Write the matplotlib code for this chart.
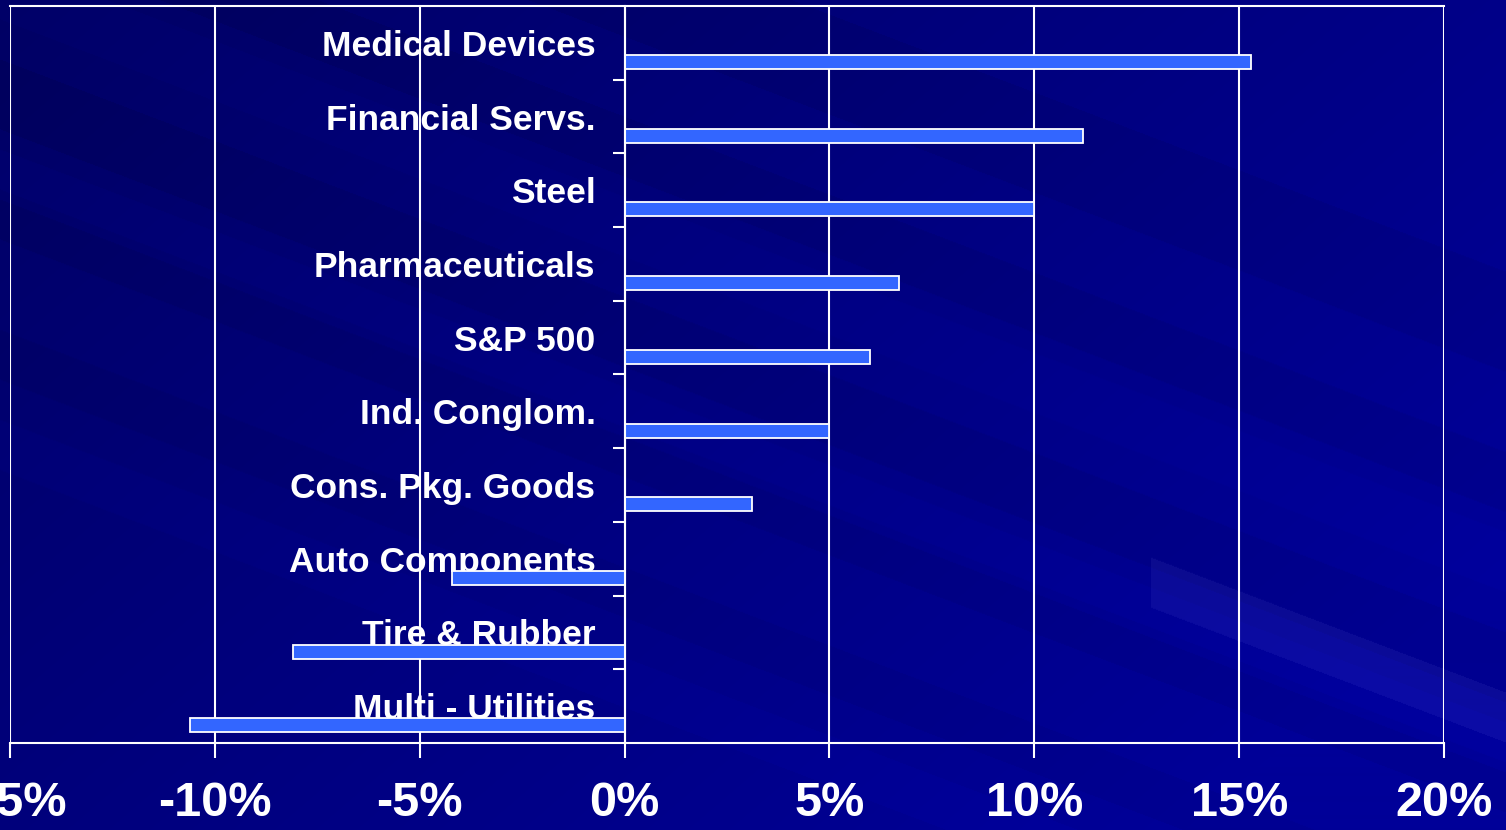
import numpy as np
import matplotlib
matplotlib.use('Agg')
import matplotlib.pyplot as plt
from matplotlib.ticker import FixedLocator, FuncFormatter

plt.rcParams['font.family'] = ['Liberation Sans', 'DejaVu Sans']

categories = ['Medical Devices', 'Financial Servs.', 'Steel', 'Pharmaceuticals',
              'S&P 500', 'Ind. Conglom.', 'Cons. Pkg. Goods', 'Auto Components',
              'Tire & Rubber', 'Multi - Utilities']
returns = [15.3, 11.2, 10.0, 6.7, 6.0, 5.0, 3.1, -4.2, -8.1, -10.6]
xticks = [-15, -10, -5, 0, 5, 10, 15, 20]

W, H = 1506, 830
fig = plt.figure(figsize=(W / 100, H / 100), dpi=100)

# background: dark blue gradient with diagonal streaks
bg = fig.add_axes([0, 0, 1, 1], zorder=0)
yy, xx = np.mgrid[0:H, 0:W]
u = xx / W
v = yy / H
blue = 0x64 + 0x34 * np.clip(0.7 * u + 0.45 * v, 0, 1)
d = yy - 0.38 * xx
for lo, hi, amt in [(-300, -200, -8), (-120, -60, -8), (60, 130, -8),
                    (200, 240, -7), (330, 380, -6), (420, 470, 5),
                    (150, 190, 5), (-40, 20, 4)]:
    blue = blue + amt * ((d > lo) & (d < hi))
light = (d > 120) & (d < 170) & (xx > 1150)
blue = blue + 8 * light
img = np.zeros((H, W, 3))
img[..., 0] = 0.045 * light
img[..., 1] = 0.045 * light
img[..., 2] = np.clip(blue, 0, 255) / 255.0
bg.imshow(img, aspect='auto', extent=[0, 1, 0, 1])
bg.axis('off')

ax = fig.add_axes([10 / W, 1 - 743 / H, 1434 / W, 737 / H], zorder=1)
ax.set_facecolor('none')

ypos = np.arange(len(categories))
ax.barh(ypos + 0.26, returns, height=0.19, color='#3366ff',
        edgecolor='white', linewidth=1.3, zorder=3)

ax.set_xlim(-15, 20)
ax.set_ylim(len(categories) - 0.5, -0.5)

ax.spines['left'].set_position(('data', 0))
for s in ['left', 'bottom', 'top']:
    ax.spines[s].set_color('white')
    ax.spines[s].set_linewidth(1.5)
ax.spines['right'].set_visible(False)
ax.spines['left'].set_zorder(4)

ax.set_xticks(xticks)
ax.xaxis.set_major_formatter(FuncFormatter(lambda x, p: '%d%%' % x))
ax.grid(axis='x', color='white', linewidth=1.5, zorder=1)
ax.tick_params(axis='x', colors='white', length=11, width=1.5,
               labelsize=35, pad=16)
for lab in ax.get_xticklabels():
    lab.set_fontweight('bold')

ax.set_yticks(ypos)
ax.set_yticklabels(categories)
ax.yaxis.set_minor_locator(FixedLocator(ypos[:-1] + 0.5))
ax.tick_params(axis='y', which='major', length=0, pad=21,
               labelsize=25.5, labelcolor='white')
ax.tick_params(axis='y', which='minor', length=9, width=1.5, color='white')
for lab in ax.get_yticklabels():
    lab.set_fontweight('bold')

fig.savefig('out.png', dpi=100)
